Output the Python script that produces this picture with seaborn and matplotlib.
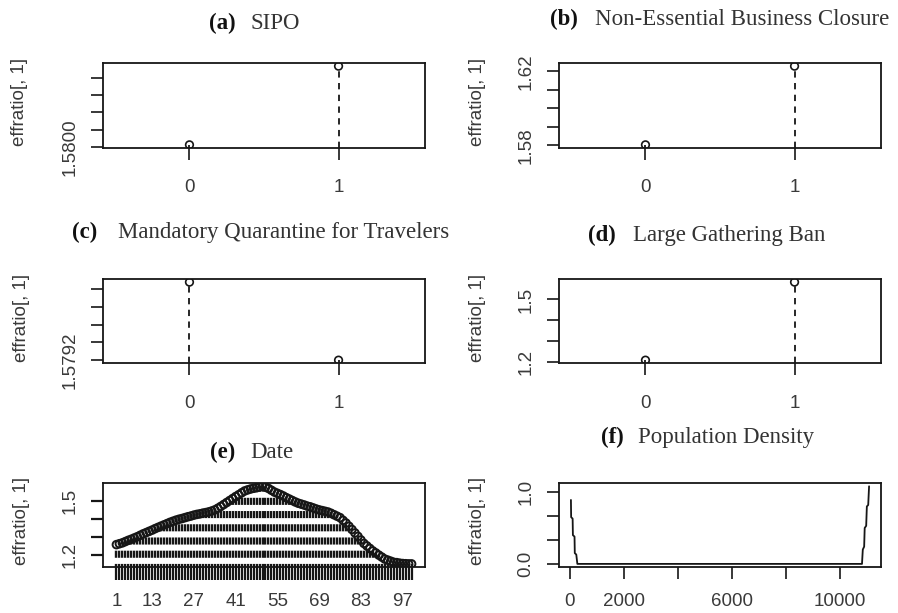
import numpy as np
import pandas as pd
import matplotlib
matplotlib.use("Agg")
import matplotlib.pyplot as plt
import seaborn as sns

# ---------------- data ----------------
levels_bin = [0, 1]
sipo_vals = [1.58003, 1.58093]
nebc_vals = [1.5802, 1.6228]
mqt_vals = [1.58008, 1.57920]
lgb_vals = [1.210, 1.583]

date_levels = list(range(1, 101))
date_vals = [
    1.260, 1.265, 1.270, 1.277, 1.284, 1.290, 1.297, 1.304, 1.312, 1.320,
    1.327, 1.334, 1.341, 1.349, 1.356, 1.363, 1.370, 1.377, 1.384, 1.390,
    1.396, 1.401, 1.405, 1.410, 1.415, 1.419, 1.424, 1.428, 1.431, 1.435,
    1.438, 1.442, 1.447, 1.453, 1.462, 1.472, 1.483, 1.494, 1.505, 1.516,
    1.527, 1.537, 1.548, 1.558, 1.564, 1.569, 1.573, 1.576, 1.580, 1.584,
    1.580, 1.572, 1.562, 1.552, 1.545, 1.538, 1.530, 1.521, 1.513, 1.505,
    1.497, 1.490, 1.485, 1.480, 1.474, 1.470, 1.464, 1.458, 1.453, 1.449,
    1.445, 1.441, 1.434, 1.426, 1.418, 1.410, 1.395, 1.380, 1.362, 1.344,
    1.325, 1.306, 1.286, 1.267, 1.253, 1.239, 1.225, 1.214, 1.202, 1.191,
    1.180, 1.174, 1.168, 1.162, 1.160, 1.157, 1.155, 1.154, 1.153, 1.153,
]
date_labels_shown = [1, 13, 27, 41, 55, 69, 83, 97]

popden_x = [52, 60, 115, 125, 185, 195, 250, 290,
            10820, 10850, 10900, 10920, 10975, 11000, 11050, 11082]
popden_y = [0.89, 0.65, 0.63, 0.40, 0.38, 0.15, 0.13, 0.0,
            0.0, 0.20, 0.24, 0.50, 0.53, 0.80, 0.82, 1.08]

titles = [
    ("(a)", "SIPO"),
    ("(b)", "Non-Essential Business Closure"),
    ("(c)", "Mandatory Quarantine for Travelers"),
    ("(d)", "Large Gathering Ban"),
    ("(e)", "Date"),
    ("(f)", "Population Density"),
]
ylabel_text = "effratio[, 1]"

sipo_ticks = [1.5800, 1.5802, 1.5804, 1.5806, 1.5808]
sipo_tlabels = ["1.5800", "", "", "", ""]
nebc_ticks = [1.58, 1.59, 1.60, 1.61, 1.62]
nebc_tlabels = ["1.58", "", "", "", "1.62"]
mqt_ticks = [1.5792, 1.5794, 1.5796, 1.5798, 1.5800]
mqt_tlabels = ["1.5792", "", "", "", ""]
lgb_ticks = [1.2, 1.3, 1.4, 1.5]
lgb_tlabels = ["1.2", "", "", "1.5"]
date_yticks = [1.2, 1.3, 1.4, 1.5]
date_ytlabels = ["1.2", "", "", "1.5"]
pop_yticks = [0.0, 0.333, 0.667, 1.0]
pop_ytlabels = ["0.0", "", "", "1.0"]
pop_xticks = [0, 2000, 4000, 6000, 8000, 10000]
pop_xtlabels = ["0", "2000", "", "6000", "", "10000"]

# ---------------- style ----------------
sns.set_style("ticks")
plt.rcParams["font.family"] = ["Liberation Sans", "DejaVu Sans"]
INK = "#161616"
TXT = "#3a3a3a"
W, H = 898, 613
DASH = (0, (3.0, 2.6))

fig = plt.figure(figsize=(W / 100, H / 100), dpi=100)
fig.patch.set_facecolor("white")


def axes_px(x0, y0, x1, y1):
    return fig.add_axes([x0 / W, 1 - y1 / H, (x1 - x0) / W, (y1 - y0) / H])


def r_lim(vals):
    lo, hi = min(vals), max(vals)
    r = hi - lo
    return lo - 0.04 * r, hi + 0.04 * r


def style_axes(ax, tick_w=1.2, xpad=14):
    ax.set_facecolor("white")
    for s in ax.spines.values():
        s.set_visible(True)
        s.set_color(INK)
        s.set_linewidth(1.3)
    ax.tick_params(axis="both", direction="out", length=8.5, width=tick_w,
                   color=INK, labelsize=13.5, labelcolor=TXT)
    ax.tick_params(axis="x", pad=xpad)
    ax.tick_params(axis="y", pad=9)
    ax.set_xlabel("")
    ax.set_ylabel("")


def set_yt(ax, ticks, labels):
    ax.set_yticks(ticks)
    ax.set_yticklabels(labels, rotation=90, va="center")


def binary_panel(ax, vals, ticks, tlabels):
    df = pd.DataFrame({"x": levels_bin, "y": vals})
    lo, hi = r_lim(vals)
    ax.set_xlim(-0.58, 1.58)
    ax.set_ylim(lo, hi)
    ax.vlines(df["x"], lo, df["y"], colors=INK, linestyles=(0, (3.5, 3.0)),
              linewidth=1.3)
    sns.scatterplot(data=df, x="x", y="y", ax=ax, marker="o", s=30,
                    color=INK, facecolor="none", edgecolor=INK,
                    linewidth=1.2, zorder=3, legend=False)
    style_axes(ax)
    ax.set_xticks(levels_bin)
    ax.set_xticklabels([str(v) for v in levels_bin])
    set_yt(ax, ticks, tlabels)


# row geometry (pixels)
LX0, LX1 = 103, 425
RX0, RX1 = 559, 881
rows = [(63, 148), (279, 363.3), (483.2, 567)]

ax_a = axes_px(LX0, rows[0][0], LX1, rows[0][1])
ax_b = axes_px(RX0, rows[0][0], RX1, rows[0][1])
ax_c = axes_px(LX0, rows[1][0], LX1, rows[1][1])
ax_d = axes_px(RX0, rows[1][0], RX1, rows[1][1])
ax_e = axes_px(LX0, rows[2][0], LX1, rows[2][1])
ax_f = axes_px(RX0, rows[2][0], RX1, rows[2][1])

binary_panel(ax_a, sipo_vals, sipo_ticks, sipo_tlabels)
binary_panel(ax_b, nebc_vals, nebc_ticks, nebc_tlabels)
binary_panel(ax_c, mqt_vals, mqt_ticks, mqt_tlabels)
binary_panel(ax_d, lgb_vals, lgb_ticks, lgb_tlabels)

# (e) Date
df_e = pd.DataFrame({"x": date_levels, "y": date_vals})
n = len(date_levels)
lo_e, hi_e = r_lim(date_vals)
ax_e.set_xlim(0.5 - 0.04 * n, n + 0.5 + 0.04 * n)
ax_e.set_ylim(lo_e, hi_e)
ax_e.vlines(df_e["x"], lo_e - 0.02, df_e["y"], colors=INK, linestyles=DASH,
            linewidth=1.7)
sns.scatterplot(data=df_e, x="x", y="y", ax=ax_e, marker="o", s=30,
                color=INK, facecolor="none", edgecolor=INK, linewidth=1.4,
                zorder=3, legend=False)
style_axes(ax_e, tick_w=1.6, xpad=10)
ax_e.tick_params(axis="x", length=9)
ax_e.set_xticks(date_levels)
ax_e.set_xticklabels([str(v) if v in date_labels_shown else "" for v in date_levels])
set_yt(ax_e, date_yticks, date_ytlabels)

# (f) Population density
df_f = pd.DataFrame({"x": popden_x, "y": popden_y})
ax_f.set_xlim(*r_lim(popden_x))
ax_f.set_ylim(*r_lim(popden_y))
sns.lineplot(data=df_f, x="x", y="y", ax=ax_f, color=INK, linewidth=1.3,
             sort=False, estimator=None, legend=False)
style_axes(ax_f, xpad=10)
ax_f.set_xticks(pop_xticks)
ax_f.set_xticklabels(pop_xtlabels)
set_yt(ax_f, pop_yticks, pop_ytlabels)

# titles: (bold tag x, text x, baseline y) in pixels
title_pos = [(209, 250, 29), (550, 595, 25), (72, 118, 238),
             (588, 633, 241.5), (210, 250, 458), (601, 638, 443)]
for (tag, txt), (xt, xx, yb) in zip(titles, title_pos):
    fig.text(xt / W, 1 - yb / H, tag, fontsize=16.5, fontweight="bold",
             family="Liberation Serif", color="#111111", ha="left", va="baseline")
    fig.text(xx / W, 1 - yb / H, txt, fontsize=16.5,
             family="Liberation Serif", color="#333333", ha="left", va="baseline")

# y-axis labels
ylab_pos = [(20, 102), (477, 102), (22, 317.5), (477, 317.5), (22, 521), (477, 521)]
for (xp, yp) in ylab_pos:
    fig.text(xp / W, 1 - yp / H, ylabel_text, rotation=90, fontsize=13.5,
             color=TXT, ha="center", va="center", family="Liberation Sans")

fig.savefig("out.png", dpi=100, facecolor="white")
